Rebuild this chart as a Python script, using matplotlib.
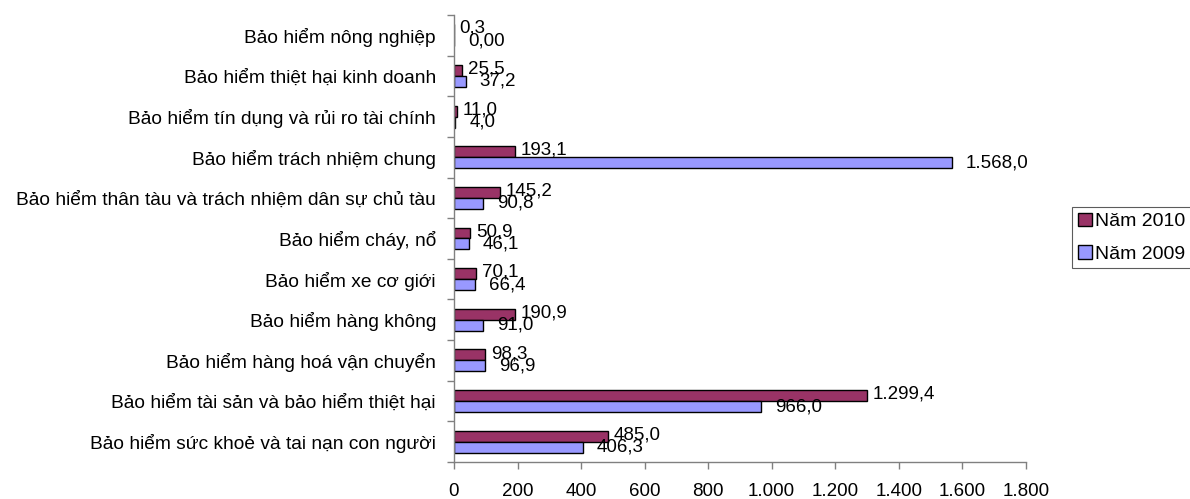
import matplotlib
matplotlib.use("Agg")
import matplotlib.pyplot as plt
import numpy as np

plt.rcParams["font.family"] = ["Liberation Sans", "DejaVu Sans"]

# thứ tự từ dưới lên
categories = [
    "Bảo hiểm sức khoẻ và tai nạn con người",
    "Bảo hiểm tài sản và bảo hiểm thiệt hại",
    "Bảo hiểm hàng hoá vận chuyển",
    "Bảo hiểm hàng không",
    "Bảo hiểm xe cơ giới",
    "Bảo hiểm cháy, nổ",
    "Bảo hiểm thân tàu và trách nhiệm dân sự chủ tàu",
    "Bảo hiểm trách nhiệm chung",
    "Bảo hiểm tín dụng và rủi ro tài chính",
    "Bảo hiểm thiệt hại kinh doanh",
    "Bảo hiểm nông nghiệp",
]
values_2010 = [485.0, 1299.4, 98.3, 190.9, 70.1, 50.9, 145.2, 193.1, 11.0, 25.5, 0.3]
values_2009 = [406.3, 966.0, 96.9, 91.0, 66.4, 46.1, 90.8, 1568.0, 4.0, 37.2, 0.0]
labels_2010 = ["485,0", "1.299,4", "98,3", "190,9", "70,1", "50,9", "145,2", "193,1", "11,0", "25,5", "0,3"]
labels_2009 = ["406,3", "966,0", "96,9", "91,0", "66,4", "46,1", "90,8", "1.568,0", "4,0", "37,2", "0,00"]
x_ticks = [0, 200, 400, 600, 800, 1000, 1200, 1400, 1600, 1800]
x_tick_labels = ["0", "200", "400", "600", "800", "1.000", "1.200", "1.400", "1.600", "1.800"]

color_2010 = "#993366"
color_2009 = "#9999FF"

fig = plt.figure(figsize=(11.9, 4.99), dpi=100)
ax = fig.add_axes([0.3815, 0.0741, 0.4805, 0.8959])

y = np.arange(len(categories))
h = 0.27
b10 = ax.barh(y + h / 2, values_2010, height=h, color=color_2010, edgecolor="black", linewidth=1, label="Năm 2010")
b09 = ax.barh(y - h / 2, values_2009, height=h, color=color_2009, edgecolor="black", linewidth=1, label="Năm 2009")

for yi, v, t in zip(y, values_2010, labels_2010):
    ax.annotate(t, (v, yi + h / 2), xytext=(4, 1), textcoords="offset points",
                va="center", ha="left", fontsize=13.5)
for yi, v, t in zip(y, values_2009, labels_2009):
    ax.annotate(t, (v, yi - h / 2), xytext=(10, 0), textcoords="offset points",
                va="center", ha="left", fontsize=13.5)

ax.set_xlim(0, 1800)
ax.set_ylim(-0.5, len(categories) - 0.5)
ax.set_xticks(x_ticks)
ax.set_xticklabels(x_tick_labels, fontsize=13.5)
ax.set_yticks(y)
ax.set_yticklabels(categories, fontsize=13.8)
ax.set_yticks(np.arange(len(categories) + 1) - 0.5, minor=True)
ax.tick_params(axis="y", which="major", length=0, pad=13)
ax.tick_params(axis="y", which="minor", length=5, width=1, color="#808080", direction="out")
ax.tick_params(axis="x", length=5, width=1, color="#808080", direction="out", pad=10)

for s in ["top", "right"]:
    ax.spines[s].set_visible(False)
for s in ["left", "bottom"]:
    ax.spines[s].set_color("#808080")
    ax.spines[s].set_linewidth(1)

leg = fig.legend(handles=[b10, b09], loc="upper left", bbox_to_anchor=(1072 / 1190, 1 - 207 / 499),
                 fontsize=14, frameon=True, fancybox=False, edgecolor="#333333",
                 handlelength=0.75, handleheight=0.7, handletextpad=0.15,
                 borderpad=0.3, labelspacing=0.75, borderaxespad=0)
leg.get_frame().set_linewidth(0.8)

fig.savefig("out.png", dpi=100)
